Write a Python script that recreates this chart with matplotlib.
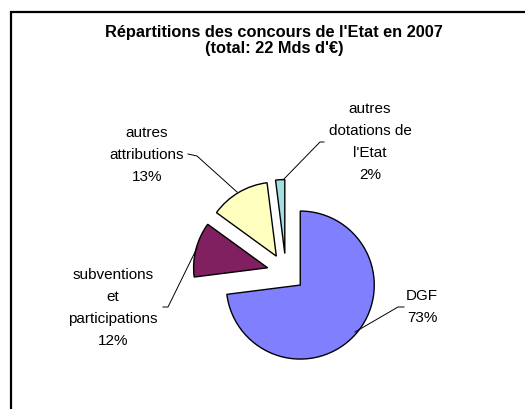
import matplotlib.pyplot as plt

plt.rcParams['font.family'] = ['Liberation Sans', 'DejaVu Sans']

# data
categories = ['DGF', 'subventions\net\nparticipations', 'autres\nattributions', 'autres\ndotations de\nl\'Etat']
shares = [73, 12, 13, 2]
colors = ['#8080FF', '#802060', '#FFFFC0', '#A0E0E0']

W, H = 525, 410

fig = plt.figure(figsize=(W / 100, H / 100), dpi=100)
ax = fig.add_axes([0, 0, 1, 1])


def Y(y):
    # image row -> axis y
    return H - y


# pie (pixel units)
ax.pie(shares, colors=colors, startangle=90, counterclock=False,
       center=(286, Y(273.5)), radius=74, explode=[19] * len(shares),
       wedgeprops=dict(edgecolor='black', linewidth=1.0), frame=True)
ax.set_xlim(0, W)
ax.set_ylim(0, H)
ax.set_aspect('equal')
ax.axis('off')

# outer frame
ax.plot([10.5, 10.5, W + 5], [Y(H + 5), Y(12.5), Y(12.5)], color='black', lw=1.6,
        solid_joinstyle='miter', clip_on=False)

# title
ax.text(274, Y(40.5), "Répartitions des concours de l'Etat en 2007\n(total: 22 Mds d'€)",
        ha='center', va='center', fontsize=11.8, fontweight='bold', linespacing=1.05)

# labels with leader lines
label_pos = [(422, 307), (113, 308), (147, 155), (370, 142)]
leaders = [
    [(355, 333), (398, 308), (404, 308)],
    [(197, 249), (168, 308), (163, 308)],
    [(237, 193), (197, 157), (188, 155)],
    [(283, 181), (320, 143), (324, 143)],
]
for name, pct, (lx, ly), pts in zip(categories, shares, label_pos, leaders):
    ax.text(lx, Y(ly), f"{name}\n{pct}%", ha='center', va='center',
            fontsize=11, linespacing=1.72)
    ax.plot([p[0] for p in pts], [Y(p[1]) for p in pts], color='black', lw=0.7)

fig.savefig('out.png', dpi=100, facecolor='white')
